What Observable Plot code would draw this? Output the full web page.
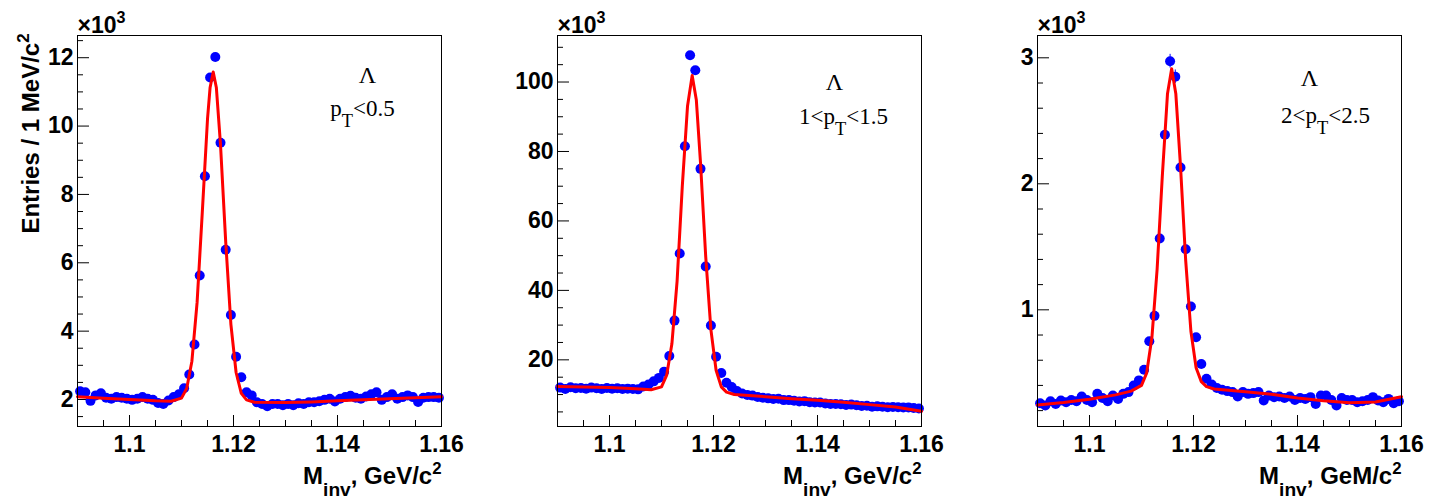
<!DOCTYPE html>
<html><head><meta charset="utf-8">
<script src="https://cdn.jsdelivr.net/npm/d3@7"></script>
<script src="https://cdn.jsdelivr.net/npm/@observablehq/plot@0.6"></script>
<style>
body{margin:0;background:#fff;}
#row{display:flex;width:1440px;height:500px;overflow:hidden;}
#row svg{flex:none;}
</style></head><body><div id="row"></div>
<script>
// ---- data (entries per 1 MeV/c^2 bin, in units of 10^3) ----
const xMin = 1.09, binWidth = 0.001, nBins = 70;
const binCenters = d3.range(nBins).map(i => +(xMin + binWidth * (i + 0.5)).toFixed(4));

const counts1 = [2.24,2.21,1.96,2.12,2.18,2.05,2.02,2.07,2.05,2.02,1.99,2.02,2.07,2.02,1.99,1.90,1.87,1.97,2.07,2.15,
  2.33,2.73,3.61,5.63,8.53,11.42,12.02,9.51,6.38,4.47,3.25,2.65,2.21,2.12,1.92,1.87,1.80,1.87,1.87,1.83,
  1.87,1.83,1.89,1.87,1.92,1.92,1.95,1.99,2.02,1.94,2.02,2.07,2.11,2.05,2.02,2.09,2.15,2.21,1.99,2.07,
  2.15,2.02,2.07,2.12,2.07,1.93,2.05,2.07,2.07,2.05];
const counts2 = [12.0,11.6,12.1,11.8,11.9,11.7,12.0,11.8,11.6,11.9,11.7,11.8,11.6,11.7,11.6,11.5,12.3,12.9,13.8,14.8,
  16.6,21.1,31.3,50.6,81.5,107.7,103.4,75.0,46.9,29.9,20.9,16.2,13.4,12.2,11.0,10.3,9.9,9.7,9.3,9.1,
  8.9,8.7,8.8,8.4,8.4,8.2,8.0,8.1,7.8,7.7,7.7,7.4,7.3,7.3,7.2,7.0,7.1,6.9,6.7,6.8,
  6.5,6.6,6.5,6.35,6.45,6.35,6.3,6.3,6.15,5.96];
const counts3 = [0.259,0.240,0.275,0.253,0.280,0.267,0.285,0.275,0.312,0.285,0.267,0.333,0.300,0.275,0.320,0.293,0.333,0.347,0.400,0.440,
  0.524,0.751,0.952,1.566,2.390,2.973,2.850,2.130,1.480,1.027,0.783,0.570,0.453,0.408,0.380,0.365,0.355,0.347,0.312,0.347,
  0.333,0.339,0.347,0.280,0.320,0.307,0.312,0.300,0.312,0.285,0.300,0.293,0.307,0.253,0.320,0.320,0.285,0.240,0.300,0.285,
  0.285,0.267,0.275,0.285,0.307,0.280,0.267,0.293,0.259,0.275];

// fit curves
const fit1X = [1.090,1.095,1.100,1.105,1.108,1.110,1.111,1.112,1.113,1.114,1.115,1.1155,1.1161,1.1167,1.1175,1.1185,1.1195,1.1205,1.1215,1.1225,1.124,1.130,1.135,1.140,1.145,1.150,1.155,1.160];
const fit1Y = [2.08,2.04,2.00,1.96,1.95,2.04,2.32,3.12,4.84,7.48,10.2,11.13,11.58,11.13,9.46,6.62,4.20,2.79,2.18,1.99,1.92,1.91,1.93,1.96,1.99,2.02,2.05,2.08];
const fit2X = [1.090,1.095,1.100,1.105,1.108,1.110,1.111,1.112,1.113,1.114,1.115,1.1159,1.1167,1.1175,1.1185,1.1195,1.1205,1.1215,1.1225,1.124,1.130,1.135,1.140,1.145,1.150,1.155,1.160];
const fit2Y = [12.3,12.15,12.0,11.7,11.4,12.2,15.6,24.6,42.7,70.0,93.0,101.9,94.8,76.8,49.8,28.7,17.0,12.2,10.7,10.0,9.4,8.8,8.35,7.75,7.1,6.4,5.2];
const fit3X = [1.090,1.095,1.100,1.105,1.108,1.110,1.111,1.112,1.113,1.114,1.115,1.1158,1.1166,1.1175,1.1185,1.1195,1.1205,1.1215,1.1225,1.124,1.130,1.135,1.140,1.145,1.150,1.155,1.160];
const fit3Y = [0.245,0.265,0.29,0.325,0.355,0.40,0.50,0.78,1.32,2.06,2.715,2.913,2.715,2.14,1.39,0.83,0.54,0.43,0.39,0.372,0.35,0.33,0.30,0.278,0.262,0.268,0.31];

// axes / ticks / labels
const xDomain = [1.09, 1.16];
const xMajor = [1.10, 1.12, 1.14, 1.16];
const xMajorLabels = ["1.1", "1.12", "1.14", "1.16"];
const xMinor = [1.095,1.105,1.11,1.115,1.125,1.13,1.135,1.145,1.15,1.155];

const y1Domain = [1.21, 12.65];
const y1Major = [2,4,6,8,10,12];
const y1Labels = ["2","4","6","8","10","12"];
const y1Minor = [1.5,2.5,3,3.5,4.5,5,5.5,6.5,7,7.5,8.5,9,9.5,10.5,11,11.5,12.5];

const y2Domain = [0.8, 113.4];
const y2Major = [20,40,60,80,100];
const y2Labels = ["20","40","60","80","100"];
const y2Minor = [5,10,15,25,30,35,45,50,55,65,70,75,85,90,95,105,110];

const y3Domain = [0.074, 3.177];
const y3Major = [1,2,3];
const y3Labels = ["1","2","3"];
const y3Minor = [0.2,0.4,0.6,0.8,1.2,1.4,1.6,1.8,2.2,2.4,2.6,2.8];

const scaleNote = "×10^{3}";
const yTitle = "Entries / 1 MeV/c^{2}";
const xTitles = ["M_{inv}, GeV/c^{2}", "M_{inv}, GeV/c^{2}", "M_{inv}, GeM/c^{2}"];
const particle = "Λ";
const ptLabels = ["p_{T}<0.5", "1<p_{T}<1.5", "2<p_{T}<2.5"];

// ---- drawing ----
const SANS = "'Liberation Sans', Arial, Helvetica, sans-serif";
const SERIF = "'Liberation Serif', 'Times New Roman', Times, serif";
const BLUE = "#0000ff", RED = "#ff0000";

function rich(svg) {
  d3.select(svg).selectAll("text").each(function() {
    const s = this.textContent;
    if (!/[_^]\{/.test(s)) return;
    const parts = []; const re = /([_^])\{([^}]*)\}/g; let last = 0, m;
    while ((m = re.exec(s))) {
      if (m.index > last) parts.push({t: s.slice(last, m.index)});
      parts.push({t: m[2], k: m[1]});
      last = re.lastIndex;
    }
    if (last < s.length) parts.push({t: s.slice(last)});
    while (this.firstChild) this.removeChild(this.firstChild);
    let shift = 0;
    for (const p of parts) {
      const ts = document.createElementNS("http://www.w3.org/2000/svg", "tspan");
      let target = 0, scale = 1;
      if (p.k === "_") { target = 0.5; scale = 0.8; }
      if (p.k === "^") { target = -0.4; scale = 0.7; }
      const d = target - shift;
      if (scale !== 1) ts.setAttribute("font-size", scale + "em");
      if (Math.abs(d) > 1e-9) ts.setAttribute("dy", (d / scale).toFixed(3) + "em");
      ts.textContent = p.t;
      this.appendChild(ts);
      shift = target;
    }
  });
}

function panel(cfg) {
  const rows = cfg.counts.map((v, i) => {
    const e = Math.sqrt(v * 1000) / 1000;
    return {x: binCenters[i], y: v, lo: v - e, hi: v + e};
  });
  const fit = cfg.fitX.map((x, i) => ({x, y: cfg.fitY[i]}));
  const marks = [
    Plot.axisX(xMinor, {tickSize: -6, tickFormat: () => "", label: null}),
    Plot.axisX(xMajor, {tickSize: -11, tickPadding: 20, tickFormat: d => xMajorLabels[xMajor.indexOf(d)], label: null, fontSize: 23, fontWeight: "bold", fontFamily: SANS}),
    Plot.axisY(cfg.yMinor, {tickSize: -6, tickFormat: () => "", label: null}),
    Plot.axisY(cfg.yMajor, {tickSize: -12, tickPadding: 16, tickFormat: d => cfg.yLabels[cfg.yMajor.indexOf(d)], label: null, fontSize: 23, fontWeight: "bold", fontFamily: SANS}),
    Plot.ruleX(rows, {x: "x", y1: "lo", y2: "hi", stroke: BLUE, strokeWidth: 1}),
    Plot.dot(rows, {x: "x", y: "y", r: 5, fill: BLUE, stroke: null}),
    Plot.line(fit, {x: "x", y: "y", stroke: RED, strokeWidth: 3}),
    Plot.frame({stroke: "black", strokeWidth: 1}),
    Plot.text([scaleNote], {text: d => d, frameAnchor: "top-left", dx: 0, dy: -3, textAnchor: "start", lineAnchor: "bottom", fontSize: 23, fontWeight: "bold", fontFamily: SANS}),
    Plot.text([cfg.xTitle], {text: d => d, frameAnchor: "bottom-right", dx: 0, dy: 57, textAnchor: "end", lineAnchor: "bottom", fontSize: 24, fontWeight: "bold", fontFamily: SANS}),
    Plot.text([particle], {text: d => d, frameAnchor: "top-left", dx: cfg.lam[0], dy: cfg.lam[1], textAnchor: "middle", lineAnchor: "bottom", fontSize: 24, fontFamily: SERIF}),
    Plot.text([cfg.pt], {text: d => d, frameAnchor: "top-left", dx: cfg.ptPos[0], dy: cfg.ptPos[1], textAnchor: "middle", lineAnchor: "bottom", fontSize: 23, fontFamily: SERIF})
  ];
  if (cfg.yTitle) marks.push(Plot.text([cfg.yTitle], {text: d => d, frameAnchor: "top-left", dx: -39, dy: -2, rotate: -90, textAnchor: "end", lineAnchor: "bottom", fontSize: 24, fontWeight: "bold", fontFamily: SANS}));
  const svg = Plot.plot({
    width: 480, height: 500,
    marginLeft: 77, marginRight: 39, marginTop: 35, marginBottom: 74,
    x: {domain: xDomain},
    y: {domain: cfg.yDomain},
    style: {fontFamily: SANS, fontSize: "23px", background: "white", color: "black", overflow: "visible"},
    marks
  });
  rich(svg);
  return svg;
}

const row = document.getElementById("row");
row.appendChild(panel({counts: counts1, fitX: fit1X, fitY: fit1Y, yDomain: y1Domain, yMajor: y1Major, yLabels: y1Labels, yMinor: y1Minor,
  xTitle: xTitles[0], yTitle: yTitle, pt: ptLabels[0], lam: [290, 47], ptPos: [285, 80]}));
row.appendChild(panel({counts: counts2, fitX: fit2X, fitY: fit2Y, yDomain: y2Domain, yMajor: y2Major, yLabels: y2Labels, yMinor: y2Minor,
  xTitle: xTitles[1], pt: ptLabels[1], lam: [277, 54], ptPos: [286, 88]}));
row.appendChild(panel({counts: counts3, fitX: fit3X, fitY: fit3Y, yDomain: y3Domain, yMajor: y3Major, yLabels: y3Labels, yMinor: y3Minor,
  xTitle: xTitles[2], pt: ptLabels[2], lam: [272, 50], ptPos: [288, 87]}));
</script></body></html>
